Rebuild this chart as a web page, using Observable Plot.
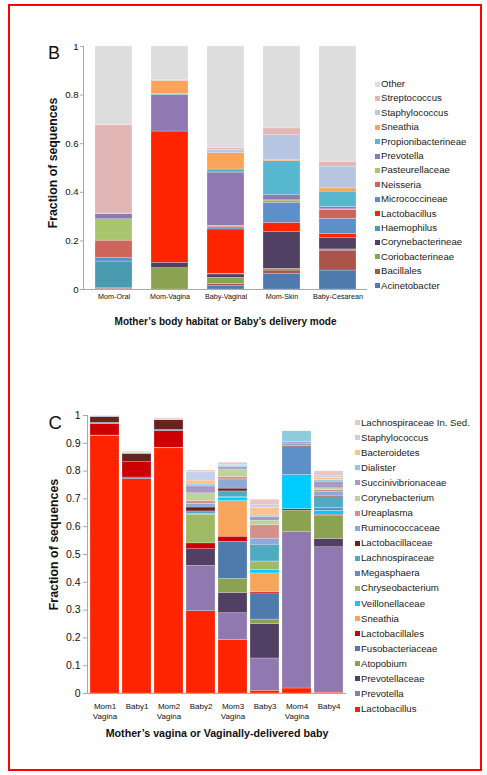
<!DOCTYPE html>
<html>
<head>
<meta charset="utf-8">
<script src="https://cdn.jsdelivr.net/npm/d3@7"></script>
<script src="https://cdn.jsdelivr.net/npm/@observablehq/plot@0.6"></script>
<style>
  html, body { margin: 0; padding: 0; background: #fff; }
  #root { position: relative; width: 487px; height: 775px; overflow: hidden; font-family: "Liberation Sans", Arial, Helvetica, sans-serif; }
  #border { position: absolute; left: 8px; top: 4px; width: 474px; height: 767px; border: 2px solid #ff0000; box-sizing: border-box; }
  .panel { position: absolute; left: 0; }
  .legend { position: absolute; font-size: 9.6px; color: #222; }
  .item { position: absolute; white-space: nowrap; height: 12px; line-height: 12px; }
  .sw { position: absolute; width: 5px; height: 5px; top: 3.5px; left: 0; }
  .lbl { position: absolute; left: 6px; top: 0; }
</style>
</head>
<body>
<div id="root">
  <div id="border"></div>
  <div id="panelB" class="panel" style="top:0px"></div>
  <div id="panelC" class="panel" style="top:370px"></div>
  <div id="legendB" class="legend" style="left:375px; top:0px"></div>
  <div id="legendC" class="legend" style="left:355px; top:0px"></div>
</div>
<script>
// ---------- Panel B data ----------
const catsB = ["Mom-Oral", "Mom-Vagina", "Baby-Vaginal", "Mom-Skin", "Baby-Cesarean"];
const taxaB = ["Acinetobacter", "Bacillales", "Coriobacterineae", "Corynebacterineae", "Haemophilus",
  "Lactobacillus", "Micrococcineae", "Neisseria", "Pasteurellaceae", "Prevotella",
  "Propionibacterineae", "Sneathia", "Staphylococcus", "Streptococcus", "Other"];
const colorsB = ["#4f7aae", "#aa544c", "#8ca253", "#514063", "#4a9bb0",
  "#ff2400", "#5d90c8", "#cd655b", "#a9c56d", "#9079b0",
  "#57b7cf", "#f8a45a", "#b7c6e2", "#e1b6b5", "#dddddd"];
const momOralB      = [0.002, 0.003, 0, 0, 0.110, 0, 0.014, 0.072, 0.088, 0.022, 0, 0, 0.002, 0.364, 0.323];
const momVaginaB    = [0, 0, 0.088, 0.022, 0, 0.540, 0, 0, 0, 0.150, 0.004, 0.055, 0.001, 0.003, 0.137];
const babyVaginalB  = [0.014, 0.009, 0.025, 0.014, 0.003, 0.182, 0.008, 0.004, 0.003, 0.219, 0.013, 0.067, 0.014, 0.007, 0.418];
const momSkinB      = [0.065, 0.013, 0.007, 0.151, 0, 0.038, 0.083, 0.005, 0.005, 0.021, 0.140, 0.006, 0.101, 0.028, 0.337];
const babyCesareanB = [0.078, 0.082, 0.005, 0.048, 0, 0.015, 0.063, 0.037, 0.002, 0.009, 0.064, 0.013, 0.090, 0.019, 0.475];
const yTicksB = [0, 0.2, 0.4, 0.6, 0.8, 1];

// ---------- Panel C data ----------
const catsC = ["Mom1\nVagina", "Baby1", "Mom2\nVagina", "Baby2", "Mom3\nVagina", "Baby3", "Mom4\nVagina", "Baby4"];
const taxaC = ["Lactobacillus", "Prevotella", "Prevotellaceae", "Atopobium", "Fusobacteriaceae",
  "Lactobacillales", "Sneathia", "Veillonellaceae", "Chryseobacterium", "Megasphaera",
  "Lachnospiraceae", "Lactobacillaceae", "Ruminococcaceae", "Ureaplasma", "Corynebacterium",
  "Succinivibrionaceae", "Dialister", "Bacteroidetes", "Staphylococcus", "Lachnospiraceae In. Sed."];
const colorsC = ["#ff2400", "#9079b0", "#514063", "#8ca253", "#4f7aac",
  "#cc0000", "#f8a45a", "#00ccff", "#9fb965", "#5d90c8",
  "#4eabc0", "#66241f", "#8fa9d6", "#d5908c", "#bcd39a",
  "#a99ac4", "#8ecbdc", "#fbc394", "#c6d0e8", "#e9c6c5"];
const mom1C  = [0.926, 0, 0, 0, 0.002, 0.041, 0, 0, 0, 0.005, 0, 0.021, 0, 0, 0, 0, 0, 0, 0.003, 0];
const baby1C = [0.771, 0, 0, 0, 0.006, 0.055, 0, 0, 0, 0, 0, 0.030, 0, 0, 0.004, 0, 0, 0, 0.003, 0];
const mom2C  = [0.882, 0, 0, 0, 0.002, 0.060, 0, 0, 0, 0.004, 0, 0.035, 0, 0, 0, 0, 0, 0, 0.003, 0.004];
const baby2C = [0.296, 0.163, 0.060, 0, 0, 0.021, 0, 0, 0.103, 0.003, 0.009, 0.014, 0.013, 0.010, 0.028, 0.025, 0.007, 0.014, 0.030, 0.006];
const mom3C  = [0.192, 0.097, 0.073, 0.050, 0.134, 0.018, 0.128, 0.011, 0, 0.003, 0.021, 0.010, 0.033, 0.008, 0.028, 0.008, 0.003, 0.004, 0.007, 0.003];
const baby3C = [0.010, 0.116, 0.124, 0.016, 0.094, 0.004, 0.068, 0.012, 0.028, 0.003, 0.055, 0.003, 0.024, 0.048, 0.016, 0.013, 0.006, 0.027, 0.010, 0.020];
const mom4C  = [0.018, 0.562, 0, 0.078, 0, 0.005, 0, 0.123, 0, 0.100, 0, 0.003, 0.010, 0, 0, 0.005, 0.039, 0, 0, 0];
const baby4C = [0.003, 0.523, 0.030, 0.084, 0, 0.003, 0, 0.014, 0, 0.010, 0.039, 0.003, 0.015, 0.008, 0.006, 0.024, 0.005, 0.008, 0.009, 0.015];
const yTicksC = [0, 0.1, 0.2, 0.3, 0.4, 0.5, 0.6, 0.7, 0.8, 0.9, 1];

const FONT = "'Liberation Sans', Arial, Helvetica, sans-serif";

function longTable(cats, taxa, rows) {
  const out = [];
  cats.forEach((c, i) => rows[i].forEach((v, j) => { if (v > 0) out.push({cat: c, taxon: taxa[j], value: v}); }));
  return out;
}

const dataB = longTable(catsB, taxaB, [momOralB, momVaginaB, babyVaginalB, momSkinB, babyCesareanB]);
const dataC = longTable(catsC, taxaC, [mom1C, baby1C, mom2C, baby2C, mom3C, baby3C, mom4C, baby4C]);

const axisGrey = "#a8a8a8";

const plotB = Plot.plot({
  width: 487, height: 330,
  marginLeft: 83, marginRight: 120, marginTop: 46, marginBottom: 41,
  x: {domain: catsB, paddingInner: 0.34, paddingOuter: 0.17},
  y: {domain: [0, 1]},
  color: {domain: taxaB, range: colorsB},
  style: {fontFamily: FONT, background: "transparent", overflow: "visible", color: "#111"},
  marks: [
    Plot.barY(dataB, {x: "cat", y: "value", fill: "taxon", stroke: "white", strokeOpacity: 0.45, strokeWidth: 0.5}),
    Plot.ruleY([0], {stroke: axisGrey}),
    Plot.frame({anchor: "left", stroke: axisGrey}),
    Plot.axisY({ticks: yTicksB, tickFormat: d => String(d), tickSize: 3, tickPadding: 2, fontSize: 9.6, stroke: axisGrey, fill: "#111", label: null}),
    Plot.axisX({tickSize: 0, tickPadding: 4, fontSize: 7.2, fill: "#111", label: null}),
    Plot.text(["Fraction of sequences"], {text: d => d, frameAnchor: "left", textAnchor: "middle", lineAnchor: "middle", rotate: -90, dx: -30, dy: -5, fontWeight: "bold", fontSize: 12.3, fill: "#111"}),
    Plot.text(["Mother\u2019s body habitat or Baby\u2019s delivery mode"], {text: d => d, frameAnchor: "bottom", dy: 32, lineAnchor: "middle", fontWeight: "bold", fontSize: 10, fill: "#111"}),
    Plot.text(["B"], {text: d => d, frameAnchor: "top-left", dx: -35.5, dy: 7, textAnchor: "start", lineAnchor: "middle", fontSize: 18, fill: "#111"})
  ]
});

const plotC = Plot.plot({
  width: 487, height: 400,
  marginLeft: 87, marginRight: 141, marginTop: 45, marginBottom: 77,
  x: {domain: catsC, paddingInner: 0.1, paddingOuter: 0.05},
  y: {domain: [0, 1]},
  color: {domain: taxaC, range: colorsC},
  style: {fontFamily: FONT, background: "transparent", overflow: "visible", color: "#111"},
  marks: [
    Plot.barY(dataC, {x: "cat", y: "value", fill: "taxon", stroke: "white", strokeOpacity: 0.45, strokeWidth: 0.5}),
    Plot.ruleY([0], {stroke: axisGrey}),
    Plot.frame({anchor: "left", stroke: axisGrey}),
    Plot.axisY({ticks: yTicksC, tickFormat: d => String(d), tickSize: 4, tickPadding: 3, fontSize: 10.5, stroke: axisGrey, fill: "#111", label: null}),
    Plot.axisX({tickSize: 0, tickPadding: 8, fontSize: 8, lineHeight: 1.25, fill: "#111", label: null}),
    Plot.text(["Fraction of sequences"], {text: d => d, frameAnchor: "left", textAnchor: "middle", lineAnchor: "middle", rotate: -90, dx: -33.5, dy: -10, fontWeight: "bold", fontSize: 12.4, fill: "#111"}),
    Plot.text(["Mother\u2019s vagina or Vaginally-delivered baby"], {text: d => d, frameAnchor: "bottom", dy: 40, lineAnchor: "middle", fontWeight: "bold", fontSize: 10.7, fill: "#111"}),
    Plot.text(["C"], {text: d => d, frameAnchor: "top-left", dx: -39, dy: 7.5, textAnchor: "start", lineAnchor: "middle", fontSize: 18.5, fill: "#111"})
  ]
});

document.getElementById("panelB").appendChild(plotB);
document.getElementById("panelC").appendChild(plotC);

function buildLegend(el, taxa, colors, firstY, step) {
  const names = taxa.slice().reverse();
  const cols = colors.slice().reverse();
  names.forEach((n, i) => {
    const item = document.createElement("div");
    item.className = "item";
    item.style.top = (firstY + i * step - 6) + "px";
    item.style.left = "0px";
    const sw = document.createElement("span");
    sw.className = "sw";
    sw.style.background = cols[i];
    const lb = document.createElement("span");
    lb.className = "lbl";
    lb.textContent = n;
    item.appendChild(sw);
    item.appendChild(lb);
    el.appendChild(item);
  });
}
buildLegend(document.getElementById("legendB"), taxaB, colorsB, 84, 14.4);
buildLegend(document.getElementById("legendC"), taxaC, colorsC, 422.7, 15.07);
</script>
</body>
</html>
